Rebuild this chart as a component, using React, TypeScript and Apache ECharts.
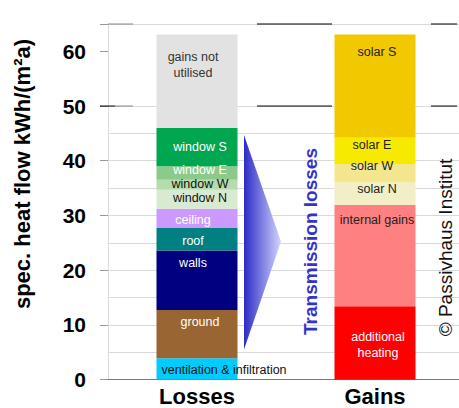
import React, { useEffect, useRef } from "react";
import * as echarts from "echarts";

const categories = ["Losses", "Gains"];

const lossNames = [
  "ventilation & infiltration",
  "ground",
  "walls",
  "roof",
  "ceiling",
  "window N",
  "window W",
  "window E",
  "window S",
  "gains not\nutilised",
];
const lossValues = [3.9, 8.8, 10.9, 4.1, 3.5, 3.5, 1.8, 2.5, 7.0, 17.1];

const gainNames = [
  "additional\nheating",
  "internal gains",
  "solar N",
  "solar W",
  "solar E",
  "solar S",
];
const gainValues = [13.4, 18.5, 4.1, 3.4, 4.8, 18.9];

const gridLevels = [5, 10, 15, 20, 25, 30, 35, 40, 45, 50, 65];

const yAxisTitle = "spec. heat flow kWh/(m²a)";

const FONT = "'Liberation Sans', Arial, sans-serif";

const lossColors = [
  "#00ccff",
  "#996633",
  "#000080",
  "#008080",
  "#cc99ff",
  "#d8ebd2",
  "#b5dcae",
  "#8dc98a",
  "#00a650",
  "#e2e2e2",
];
const gainColors = ["#ff0000", "#ff8080", "#f2eec6", "#f3e68f", "#f6ea00", "#f2c800"];

type LabelCfg = { pos: string; dist?: number; offset: number[]; color: string };

const lossLabelCfg: LabelCfg[] = [
  { pos: "insideLeft", offset: [0, 1], color: "#111" },
  { pos: "insideTop", dist: 4, offset: [3, 0], color: "#fff" },
  { pos: "insideTop", dist: 5, offset: [-4, 0], color: "#fff" },
  { pos: "inside", offset: [-4, 2], color: "#fff" },
  { pos: "inside", offset: [-4, 2], color: "#fff" },
  { pos: "inside", offset: [3, -1], color: "#111" },
  { pos: "inside", offset: [3, -1], color: "#111" },
  { pos: "inside", offset: [3, -3], color: "#fff" },
  { pos: "inside", offset: [3, 0], color: "#fff" },
  { pos: "insideTop", dist: 15, offset: [-4, 0], color: "#333" },
];
const gainLabelCfg: LabelCfg[] = [
  { pos: "inside", offset: [3, 2], color: "#fff" },
  { pos: "insideTop", dist: 7, offset: [2, 0], color: "#222" },
  { pos: "inside", offset: [2, -5], color: "#222" },
  { pos: "inside", offset: [-3, -7], color: "#222" },
  { pos: "inside", offset: [-3, -6], color: "#222" },
  { pos: "insideTop", dist: 10, offset: [2, 0], color: "#222" },
];

function makeSeries(
  name: string,
  value: number,
  catIndex: number,
  color: string,
  cfg: LabelCfg
): any {
  const data = categories.map((_, i) => (i === catIndex ? value : "-"));
  return {
    name,
    type: "bar",
    stack: "total",
    barWidth: 81,
    data,
    itemStyle: { color },
    z: 2,
    label: {
      show: true,
      formatter: name,
      position: cfg.pos,
      distance: cfg.dist ?? 5,
      offset: cfg.offset,
      color: cfg.color,
      fontSize: 12.5,
      lineHeight: 16,
      fontFamily: FONT,
      align: cfg.pos === "insideLeft" ? "left" : "center",
    },
  };
}

export default function App() {
  const ref = useRef<HTMLDivElement>(null);

  useEffect(() => {
    if (!ref.current) return;
    const chart = echarts.init(ref.current, null, { renderer: "svg" });

    const series: any[] = [];
    lossNames.forEach((n, i) =>
      series.push(makeSeries(n, lossValues[i], 0, lossColors[i], lossLabelCfg[i]))
    );
    gainNames.forEach((n, i) =>
      series.push(makeSeries(n, gainValues[i], 1, gainColors[i], gainLabelCfg[i]))
    );
    series[0].markLine = {
      silent: true,
      symbol: "none",
      z: 1,
      label: { show: false },
      lineStyle: { color: "#d9d9d9", width: 1, type: "solid" },
      data: gridLevels.map((v) => ({ yAxis: v })),
    };

    chart.setOption({
      animation: false,
      backgroundColor: "#ffffff",
      textStyle: { fontFamily: FONT },
      grid: {
        left: 108,
        top: 24,
        height: 355.5,
        width: 356,
        containLabel: false,
        outerBoundsMode: "none",
      },
      xAxis: {
        type: "category",
        data: categories,
        axisLine: { show: true, lineStyle: { color: "#777", width: 1 } },
        axisTick: { show: false },
        axisLabel: {
          margin: 6,
          fontSize: 22,
          fontWeight: "bold",
          color: "#000",
          fontFamily: FONT,
        },
      },
      yAxis: {
        type: "value",
        min: 0,
        max: 65,
        interval: 10,
        axisLine: { show: true, lineStyle: { color: "#dcdcdc" } },
        axisTick: { show: true, length: 8, lineStyle: { color: "#999" } },
        splitLine: { show: false },
        axisLabel: {
          margin: 22,
          fontSize: 21,
          fontWeight: "bold",
          color: "#000",
          fontFamily: FONT,
          formatter: (v: number) => (v % 10 === 0 ? String(v) : ""),
        },
      },
      series,
    });

    const y65 = chart.convertToPixel({ yAxisIndex: 0 }, 65) as number;
    const y50 = chart.convertToPixel({ yAxisIndex: 0 }, 50) as number;
    const seg = (x1: number, x2: number, y: number, color: string) => ({
      type: "line",
      silent: true,
      z: 3,
      shape: { x1, y1: y, x2, y2: y },
      style: { stroke: color, lineWidth: 1 },
    });

    chart.setOption({
      graphic: [
        seg(257, 332, y65, "#000"),
        seg(431, 457, y65, "#000"),
        seg(257, 332, y50, "#000"),
        seg(431, 457, y50, "#000"),
        seg(108, 133, y65, "#888"),
        seg(100, 115, y50, "#000"),
        seg(115, 133, y50, "#888"),
        {
          type: "text",
          silent: true,
          z: 3,
          x: 22,
          y: 174,
          rotation: Math.PI / 2,
          style: {
            text: yAxisTitle,
            fontSize: 22,
            fontWeight: "bold",
            fill: "#000",
            fontFamily: FONT,
            align: "center",
            verticalAlign: "middle",
          },
        },
        {
          type: "polygon",
          silent: true,
          z: 3,
          shape: {
            points: [
              [244, 135],
              [281, 241.5],
              [244, 349.5],
            ],
          },
          style: {
            fill: new echarts.graphic.LinearGradient(0, 0, 1, 0, [
              { offset: 0, color: "#2c2cc6" },
              { offset: 1, color: "#d4d4ff" },
            ]),
          },
        },
        {
          type: "text",
          silent: true,
          z: 3,
          x: 310.5,
          y: 241.5,
          rotation: Math.PI / 2,
          style: {
            text: "Transmission losses",
            fontSize: 19,
            fontWeight: "bold",
            fill: "#3333cc",
            fontFamily: FONT,
            align: "center",
            verticalAlign: "middle",
          },
        },
        {
          type: "text",
          silent: true,
          z: 3,
          x: 445.5,
          y: 247.5,
          rotation: Math.PI / 2,
          style: {
            text: "© Passivhaus Institut",
            fontSize: 19,
            fill: "#111",
            fontFamily: FONT,
            align: "center",
            verticalAlign: "middle",
          },
        },
      ],
    });

    return () => chart.dispose();
  }, []);

  return (
    <div
      ref={ref}
      style={{
        position: "absolute",
        left: 0,
        top: 0,
        width: 459,
        height: 408,
        background: "#fff",
      }}
    />
  );
}
